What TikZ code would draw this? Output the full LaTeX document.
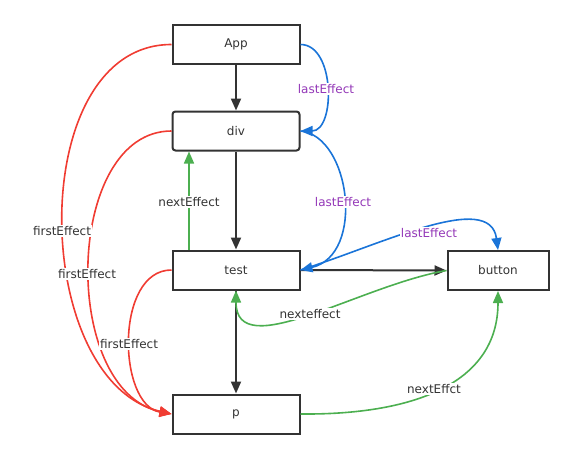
\documentclass[tikz,border=0pt]{standalone}
\usepackage{fontspec}
\setmainfont{DejaVu Sans}
\usetikzlibrary{arrows.meta}
\definecolor{boxc}{HTML}{333333}
\definecolor{redc}{HTML}{F03C32}
\definecolor{bluec}{HTML}{1A74D8}
\definecolor{greenc}{HTML}{4CAF50}
\definecolor{purc}{HTML}{9438B8}
\begin{document}
\begin{tikzpicture}[x=1pt,y=-1pt,
 box/.style={draw=boxc,line width=2pt,minimum width=127pt,minimum height=39pt,inner sep=0pt,font=\fontsize{12}{14}\selectfont,text=boxc},
 arr/.style={-{Triangle[length=12pt,width=10pt]}},
 blk/.style={arr,draw=boxc,line width=2pt},
 redline/.style={arr,draw=redc,line width=1.6pt},
 blueline/.style={arr,draw=bluec,line width=1.6pt},
 greenline/.style={arr,draw=greenc,line width=1.6pt},
 lbl/.style={fill=white,inner sep=1pt,font=\fontsize{12}{14}\selectfont,text=boxc},
 plbl/.style={lbl,text=purc}]
\useasboundingbox (0,0) rectangle (573,460);
\node[box] (App) at (236,44.5) {App};
\node[box,rounded corners=3pt] (div) at (236,131) {div};
\node[box] (test) at (236,270) {test};
\node[box,minimum width=101pt] (button) at (498,270.5) {button};
\node[box] (p) at (236,414) {p};
% black
\draw[blk] (App.south) -- (div.north);
\draw[blk] (div.south) -- (test.north);
\draw[blk] (test.south) -- (p.north);
\draw[blk] (test.east) -- (button.west);
% red
\draw[redline] (App.west) .. controls +(-147,0) and +(-142,-33) .. (p.west);
\draw[redline] (div.west) .. controls +(-107,0) and +(-112,-24) .. (p.west);
\draw[redline] (test.west) .. controls +(-57,0) and +(-54,-9) .. (p.west);
% blue
\draw[blueline] (App.east) .. controls +(35,0) and +(35,0) .. (div.east);
\draw[blueline] (div.east) .. controls +(50,5) and +(65,-15) .. (test.east);
\draw[blueline] (test.east) .. controls +(80,-25) and +(-8,-60) .. (button.north);
% green
\draw[greenline] ([xshift=-47pt]test.north) -- ([xshift=-47pt]div.south);
\draw[greenline] (button.west) .. controls +(-87,15) and +(0,74) .. (test.south);
\draw[greenline] (p.east) .. controls +(110,1) and +(0,94) .. (button.south);
% labels
\node[lbl] (f1) at (62,231) {firstEffect};
\node[lbl] (f2) at (87,274) {firstEffect};
\node[lbl] (f3) at (129,344) {firstEffect};
\node[plbl] (l1) at (326,89) {lastEffect};
\node[plbl] (l2) at (343,202) {lastEffect};
\node[plbl] (l3) at (429,233) {lastEffect};
\node[lbl] (n1) at (189,202) {nextEffect};
\node[lbl] (n2) at (310,314) {nexteffect};
\node[lbl] (n3) at (434,389) {nextEffct};
\end{tikzpicture}
\end{document}
